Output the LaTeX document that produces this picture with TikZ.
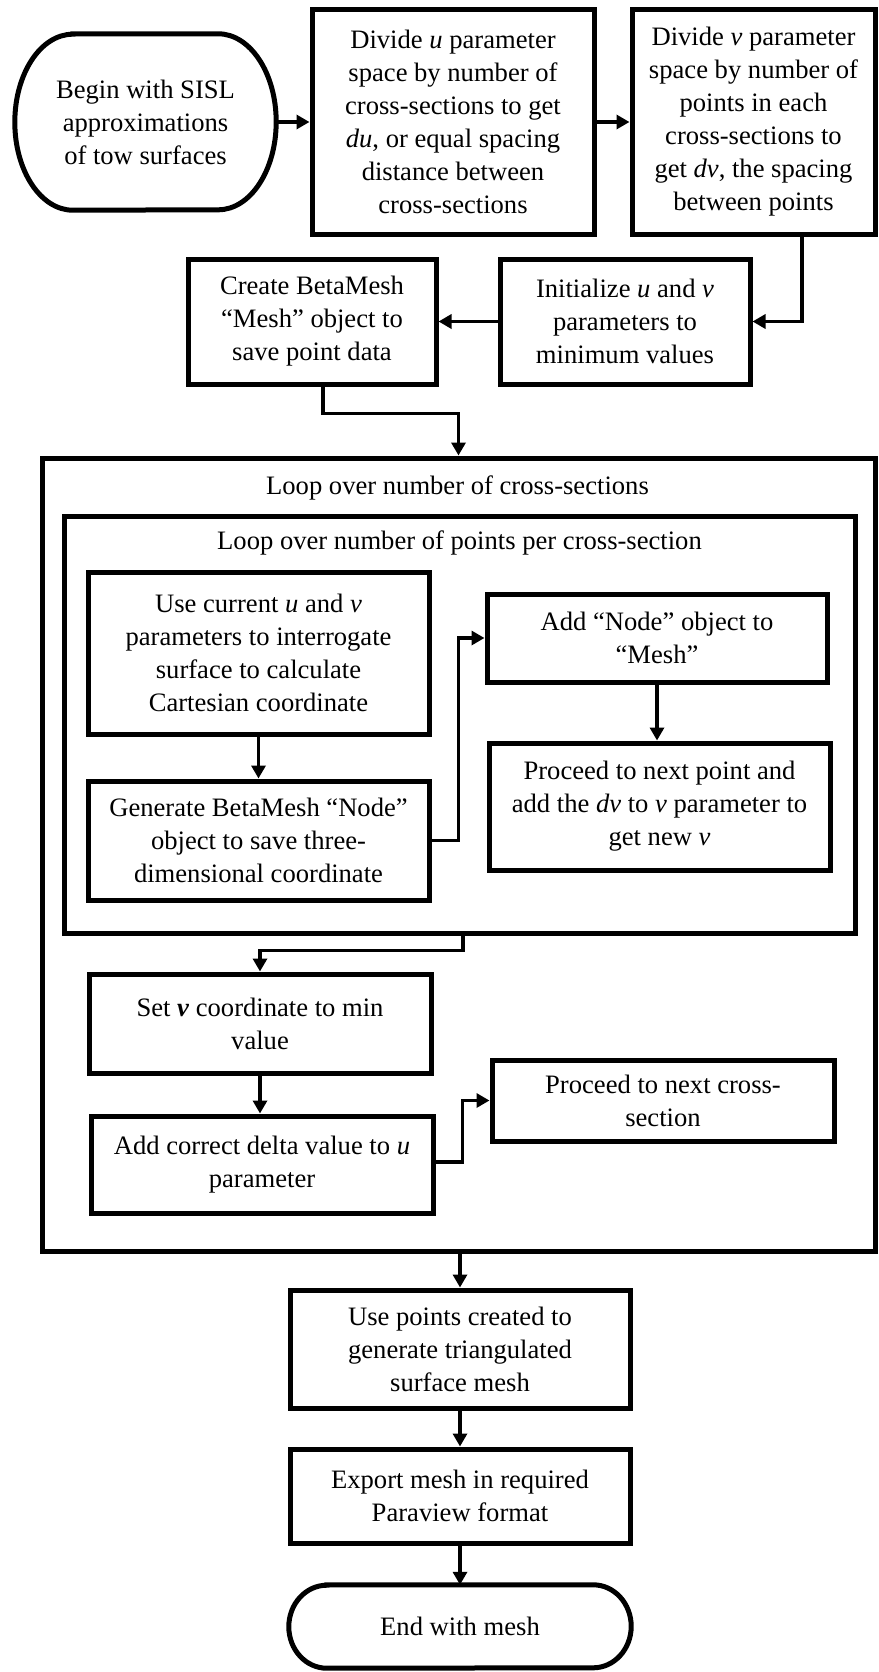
\documentclass[tikz,border=0pt]{standalone}
\usepackage{fontspec}
\setmainfont{Liberation Serif}
\usetikzlibrary{arrows.meta}
\tikzset{
	box/.style={draw, line width=5pt, inner sep=0pt, align=center},
	term/.style={inner sep=0pt, align=center},
	termline/.style={line width=5pt},
	loopbox/.style={draw, line width=5pt, inner sep=0pt},
	conn/.style={line width=3.5pt, -{Triangle[length=13pt,width=14pt]}},
}
\begin{document}
\begin{tikzpicture}[x=1pt, y=-1pt, font=\fontsize{26.6}{33}\selectfont]
				\useasboundingbox (0,0) rectangle (878,1672);
				% setup
				\node[term, minimum width=261pt, minimum height=176pt] (b) at (145.5,122) {Begin with SISL\\approximations\\of tow surfaces};
				\draw[termline] ([xshift=58pt]b.north west) -- ([xshift=-58pt]b.north east) arc[start angle=90, end angle=-90, x radius=58pt, y radius=88pt] -- ([xshift=58pt]b.south west) arc[start angle=270, end angle=90, x radius=58pt, y radius=88pt] -- cycle;
				\node[box, minimum width=282pt, minimum height=224pt] (divu) at (453,122) {Divide \textit{u} parameter\\space by number of\\cross-sections to get\\\textit{du}, or equal spacing\\distance between\\cross-sections};
				\node[box, minimum width=243pt, minimum height=225pt] (divv) at (753.5,122) {Divide \textit{v} parameter\\space by number of\\points in each\\cross-sections to\\get \textit{dv}, the spacing\\between points};
				\node[box, minimum width=250pt, minimum height=125pt] (init) at (625,321.5) {Initialize \textit{u} and \textit{v}\\parameters to\\minimum values};
				\node[box, minimum width=248pt, minimum height=125pt] (create) at (312,321.5) {Create BetaMesh\\“Mesh” object to\\save point data};
				% loops
				\node[loopbox, minimum width=833pt, minimum height=793pt] (outer) at (458.5,854.5) {};
				\node (lblcs) at (457.5,488) {Loop over number of cross-sections};
				\node[loopbox, minimum width=791pt, minimum height=417pt] (inner) at (459.5,724.5) {};
				\node (lblpt) at (459.5,543) {Loop over number of points per cross-section};
				\node[box, minimum width=341pt, minimum height=162pt] (usecur) at (258.5,653) {Use current \textit{u} and \textit{v}\\parameters to interrogate\\surface to calculate\\Cartesian coordinate};
				\node[box, minimum width=341pt, minimum height=119pt] (gen) at (258.5,840.5) {Generate BetaMesh “Node”\\object to save three-\\dimensional coordinate};
				\node[box, minimum width=340pt, minimum height=88pt] (addnode) at (657,638) {Add “Node” object to\\“Mesh”};
				\node[box, minimum width=341pt, minimum height=127pt] (nextpt) at (659.5,806.5) {Proceed to next point and\\add the \textit{dv} to \textit{v} parameter to\\get new \textit{v}};
				\node[box, minimum width=342pt, minimum height=99pt] (setv) at (260,1023.5) {Set \textbf{\textit{v}} coordinate to min\\value};
				\node[box, minimum width=342pt, minimum height=97pt] (adddelta) at (262,1164.5) {Add correct delta value to \textit{u}\\parameter};
				\node[box, minimum width=342pt, minimum height=81pt] (nextcs) at (663,1100.5) {Proceed to next cross-\\section};
				% finish
				\node[box, minimum width=340pt, minimum height=118pt] (usepts) at (460,1349) {Use points created to\\generate triangulated\\surface mesh};
				\node[box, minimum width=340pt, minimum height=94pt] (export) at (460,1496) {Export mesh in required\\Paraview format};
				\node[term, minimum width=342pt, minimum height=83pt] (endn) at (460,1626.5) {End with mesh};
				\draw[termline] ([xshift=38pt]endn.north west) -- ([xshift=-38pt]endn.north east) arc[start angle=90, end angle=-90, x radius=38pt, y radius=41.5pt] -- ([xshift=38pt]endn.south west) arc[start angle=270, end angle=90, x radius=38pt, y radius=41.5pt] -- cycle;
				% connectors
				\draw[conn] (b.east) -- (divu.west);
				\draw[conn] (divu.east) -- (divv.west);
				\draw[conn] ([xshift=48.5pt]divv.south) |- (init.east);
				\draw[conn] (init.west) -- (create.east);
				\draw[conn] ([xshift=11pt]create.south) -- ++(0,27) -| (outer.north);
				\draw[conn] (usecur.south) -- (gen.north);
				\draw[conn] (gen.east) -- ++(27,0) |- (addnode.west);
				\draw[conn] (addnode.south) -- (addnode.south |- nextpt.north);
				\draw[conn] ([xshift=3.5pt]inner.south) -- ++(0,15) -| (setv.north);
				\draw[conn] (setv.south) -- (setv.south |- adddelta.north);
				\draw[conn] ([yshift=2.5pt]adddelta.east) -- ++(27,0) |- (nextcs.west);
				\draw[conn] (outer.south -| usepts.north) -- (usepts.north);
				\draw[conn] (usepts.south) -- (export.north);
				\draw[conn] (export.south) -- (endn.north);
\end{tikzpicture}
\end{document}
